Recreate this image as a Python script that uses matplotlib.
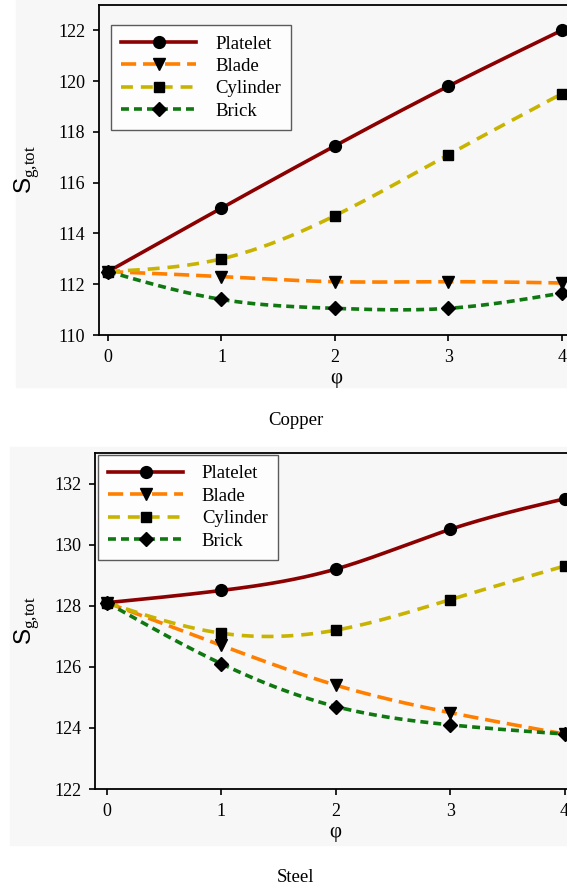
import numpy as np
import matplotlib.pyplot as plt
from matplotlib.patches import Rectangle

plt.rcParams['font.family'] = ['Liberation Serif', 'DejaVu Serif']
plt.rcParams['mathtext.fontset'] = 'custom'
plt.rcParams['mathtext.rm'] = 'Liberation Serif'
plt.rcParams['mathtext.sf'] = 'Liberation Sans'

phi = [0, 1, 2, 3, 4]
shapes = ['Platelet', 'Blade', 'Cylinder', 'Brick']

copper_platelet = [112.5, 115.0, 117.45, 119.8, 122.0]
copper_blade = [112.5, 112.3, 112.1, 112.1, 112.05]
copper_cylinder = [112.5, 113.0, 114.7, 117.1, 119.5]
copper_brick = [112.5, 111.4, 111.05, 111.05, 111.65]

steel_platelet = [128.1, 128.5, 129.2, 130.5, 131.5]
steel_blade = [128.1, 126.7, 125.4, 124.5, 123.8]
steel_cylinder = [128.1, 127.1, 127.2, 128.2, 129.3]
steel_brick = [128.1, 126.1, 124.7, 124.1, 123.8]

colors = ['#8b0000', '#ff8000', '#c8b400', '#107810']
markers = ['o', 'v', 's', 'D']
msizes = [8.5, 8.5, 7.5, 7]
dashes = [None, (4.2, 1.9), (3.3, 2.2), (2.2, 1.4)]
lw = 2.6
bg = '#f7f7f7'


def spline(x, y, n=200):
    # natural cubic spline, just for drawing the smooth curve
    x = np.asarray(x, float)
    y = np.asarray(y, float)
    k = len(x)
    h = np.diff(x)
    A = np.zeros((k, k))
    b = np.zeros(k)
    A[0, 0] = A[-1, -1] = 1
    for i in range(1, k - 1):
        A[i, i - 1] = h[i - 1]
        A[i, i] = 2 * (h[i - 1] + h[i])
        A[i, i + 1] = h[i]
        b[i] = 3 * ((y[i + 1] - y[i]) / h[i] - (y[i] - y[i - 1]) / h[i - 1])
    c = np.linalg.solve(A, b)
    xs = np.linspace(x[0], x[-1], n)
    idx = np.clip(np.searchsorted(x, xs) - 1, 0, k - 2)
    t = xs - x[idx]
    bb = (y[idx + 1] - y[idx]) / h[idx] - h[idx] * (2 * c[idx] + c[idx + 1]) / 3
    d = (c[idx + 1] - c[idx]) / (3 * h[idx])
    return xs, y[idx] + bb * t + c[idx] * t ** 2 + d * t ** 3


fig = plt.figure(figsize=(5.67, 8.9), dpi=100)
fig.patches.append(Rectangle((16 / 567, 1 - 387 / 890), 1, 387 / 890,
                             transform=fig.transFigure, color=bg, zorder=-10))
fig.patches.append(Rectangle((10 / 567, 1 - 845 / 890), 1, 398 / 890,
                             transform=fig.transFigure, color=bg, zorder=-10))


def panel(rect, series, ylim, yticks, xmin, leg_anchor, label_y, caption, cap_y):
    ax = fig.add_axes(rect)
    ax.set_facecolor(bg)
    for name, vals, c, m, ms, ds in zip(shapes, series, colors, markers, msizes, dashes):
        xs, ys = spline(phi, vals)
        line, = ax.plot(xs, ys, color=c, lw=lw, zorder=2)
        if ds is not None:
            line.set_dashes(ds)
        ax.plot(phi, vals, ls='none', marker=m, ms=ms, color='black', zorder=3)
        h, = ax.plot([], [], color=c, lw=lw, marker=m, ms=ms, mfc='black', mec='black', label=name)
        if ds is not None:
            h.set_dashes(ds)
    ax.set_xlim(xmin, 4.1)
    ax.set_ylim(*ylim)
    ax.set_xticks(phi)
    ax.set_yticks(yticks)
    for s in ['left', 'bottom', 'top']:
        ax.spines[s].set_linewidth(1.3)
    ax.spines['right'].set_visible(False)
    ax.tick_params(direction='out', length=4, width=1.2, labelsize=13, pad=6,
                   top=False, right=False)
    leg = ax.legend(loc='upper left', bbox_to_anchor=leg_anchor, fontsize=13.5,
                    frameon=True, fancybox=False, edgecolor='#333333',
                    handlelength=4.0, handletextpad=1.0, labelspacing=0.28,
                    borderpad=0.55, borderaxespad=0)
    leg.get_frame().set_linewidth(1.0)
    leg.get_frame().set_facecolor('white')
    fig.text(27 / 567, label_y, r'$\mathsf{S}_{\mathrm{g{,}tot}}$', rotation=90,
             ha='center', va='center', fontsize=17.5)
    ax.set_xlabel('φ', fontsize=15, labelpad=2)
    fig.text(296 / 567, cap_y, caption, ha='center', va='center', fontsize=13.5)
    return ax


panel([99 / 567, 1 - 335 / 890, 474 / 567, 330 / 890],
      [copper_platelet, copper_blade, copper_cylinder, copper_brick],
      (110, 123), [110, 112, 114, 116, 118, 120, 122], -0.08,
      (0.0253, 0.939), 1 - 170 / 890, 'Copper', 1 - 420 / 890)

panel([95 / 567, 1 - 789 / 890, 481 / 567, 336 / 890],
      [steel_platelet, steel_blade, steel_cylinder, steel_brick],
      (122, 133), [122, 124, 126, 128, 130, 132], -0.105,
      (0.006, 0.994), 1 - 621 / 890, 'Steel', 1 - 877 / 890)

fig.savefig('out.png', dpi=100)
